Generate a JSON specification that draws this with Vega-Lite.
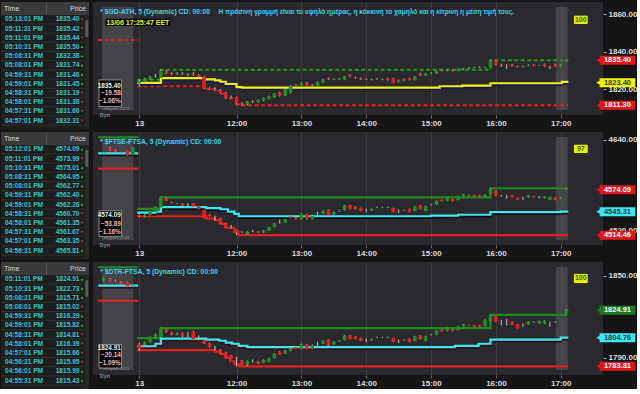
{
"$schema": "https://vega.github.io/schema/vega-lite/v6.json",
"background": "#151515",
"padding": {"left": 0, "top": 2, "right": 0, "bottom": 0},
"spacing": 3,
"config": {"view": {"stroke": null}, "font": "Liberation Sans", "text": {"font": "Liberation Sans", "fontWeight": "bold"}, "axis": {"labelFont": "Liberation Sans"}, "concat": {"spacing": 4}},
"datasets": {
"bands": [{"t": 595.5, "t2": 624.5}, {"t": 1015.5, "t2": 1026.5}],
"tb1": [
{"r":0,"time":"05:13:01 PM","price":"1835.40","d":"d"},{"r":1,"time":"05:11:31 PM","price":"1835.42","d":"d"},{"r":2,"time":"05:11:01 PM","price":"1835.44","d":"d"},{"r":3,"time":"05:10:31 PM","price":"1835.50","d":"u"},{"r":4,"time":"05:08:31 PM","price":"1832.38","d":"u"},{"r":5,"time":"05:08:01 PM","price":"1831.74","d":"u"},{"r":6,"time":"04:59:31 PM","price":"1831.46","d":"u"},{"r":7,"time":"04:59:01 PM","price":"1831.45","d":"u"},{"r":8,"time":"04:58:31 PM","price":"1831.19","d":"d"},{"r":9,"time":"04:58:01 PM","price":"1831.38","d":"d"},{"r":10,"time":"04:57:31 PM","price":"1831.60","d":"d"},{"r":11,"time":"04:57:01 PM","price":"1832.31","d":"d"}],
"tb2": [
{"r":0,"time":"05:12:01 PM","price":"4574.09","d":"u"},{"r":1,"time":"05:11:01 PM","price":"4573.99","d":"d"},{"r":2,"time":"05:10:31 PM","price":"4575.01","d":"u"},{"r":3,"time":"05:08:31 PM","price":"4564.95","d":"u"},{"r":4,"time":"05:08:01 PM","price":"4562.77","d":"u"},{"r":5,"time":"04:59:31 PM","price":"4562.40","d":"u"},{"r":6,"time":"04:59:01 PM","price":"4562.26","d":"u"},{"r":7,"time":"04:58:31 PM","price":"4560.70","d":"d"},{"r":8,"time":"04:58:01 PM","price":"4561.35","d":"d"},{"r":9,"time":"04:57:31 PM","price":"4561.67","d":"d"},{"r":10,"time":"04:57:01 PM","price":"4563.35","d":"d"},{"r":11,"time":"04:56:31 PM","price":"4565.81","d":"u"}],
"tb3": [
{"r":0,"time":"05:11:01 PM","price":"1824.91","d":"u"},{"r":1,"time":"05:10:31 PM","price":"1822.73","d":"u"},{"r":2,"time":"05:08:31 PM","price":"1815.71","d":"u"},{"r":3,"time":"05:08:01 PM","price":"1815.02","d":"d"},{"r":4,"time":"04:59:31 PM","price":"1816.29","d":"u"},{"r":5,"time":"04:59:01 PM","price":"1815.82","d":"u"},{"r":6,"time":"04:58:31 PM","price":"1814.81","d":"d"},{"r":7,"time":"04:58:01 PM","price":"1816.39","d":"d"},{"r":8,"time":"04:57:01 PM","price":"1815.66","d":"d"},{"r":9,"time":"04:56:31 PM","price":"1815.95","d":"d"},{"r":10,"time":"04:56:01 PM","price":"1815.99","d":"u"},{"r":11,"time":"04:55:31 PM","price":"1815.43","d":"u"}],
"c1": [
{"t":630,"o":1823,"h":1825,"l":1821.5,"c":1824},{"t":635,"o":1824,"h":1826,"l":1823,"c":1825.5},{"t":640,"o":1825.5,"h":1827,"l":1825,"c":1826.5},{"t":645,"o":1826.5,"h":1828,"l":1826,"c":1827},{"t":650,"o":1826,"h":1830.5,"l":1826,"c":1830},{"t":655,"o":1829.5,"h":1830.2,"l":1828,"c":1828.5},{"t":660,"o":1828.5,"h":1829,"l":1827.5,"c":1828},{"t":665,"o":1828,"h":1829,"l":1827.6,"c":1828.3},{"t":670,"o":1828.5,"h":1829,"l":1827.5,"c":1827.8},{"t":675,"o":1827.8,"h":1828.5,"l":1827,"c":1828.2},{"t":680,"o":1828.2,"h":1829,"l":1827,"c":1827.5},{"t":685,"o":1827.5,"h":1828,"l":1826,"c":1826.5},{"t":690,"o":1826.5,"h":1827,"l":1820,"c":1820.5},{"t":695,"o":1820.5,"h":1821,"l":1819.5,"c":1820},{"t":700,"o":1820,"h":1821,"l":1819,"c":1819.5},{"t":705,"o":1819.5,"h":1820,"l":1817.5,"c":1818},{"t":710,"o":1818,"h":1818.5,"l":1815,"c":1815.5},{"t":715,"o":1815.5,"h":1816.5,"l":1815,"c":1815.8},{"t":720,"o":1815.8,"h":1816,"l":1811.8,"c":1812.3},{"t":725,"o":1812.3,"h":1813,"l":1811.3,"c":1811.8},{"t":730,"o":1811.8,"h":1813.6,"l":1811.3,"c":1813.3},{"t":735,"o":1813.3,"h":1814,"l":1812.5,"c":1813},{"t":740,"o":1813,"h":1814.5,"l":1812.8,"c":1814.3},{"t":745,"o":1814,"h":1815.5,"l":1813.5,"c":1815.2},{"t":750,"o":1815,"h":1816.5,"l":1814.5,"c":1816.3},{"t":755,"o":1815.6,"h":1817.8,"l":1815.2,"c":1817.6},{"t":760,"o":1818,"h":1818.5,"l":1816,"c":1816.5},{"t":765,"o":1816.5,"h":1820.2,"l":1816.3,"c":1819.8},{"t":770,"o":1818,"h":1822,"l":1817.8,"c":1821.5},{"t":775,"o":1821.8,"h":1822.5,"l":1821,"c":1821.3},{"t":780,"o":1821.3,"h":1823.5,"l":1821,"c":1823},{"t":785,"o":1823.3,"h":1823.8,"l":1821.8,"c":1822.2},{"t":790,"o":1822.3,"h":1822.8,"l":1821.5,"c":1822},{"t":795,"o":1822,"h":1824,"l":1821.8,"c":1823.5},{"t":800,"o":1823.5,"h":1825.5,"l":1823.2,"c":1825},{"t":805,"o":1825.8,"h":1826.2,"l":1824.8,"c":1825.2},{"t":810,"o":1825,"h":1825.8,"l":1824.8,"c":1825.5},{"t":815,"o":1825.3,"h":1826,"l":1825,"c":1825.6},{"t":820,"o":1825,"h":1827,"l":1824.8,"c":1826.8},{"t":825,"o":1827.5,"h":1828,"l":1826.3,"c":1826.6},{"t":830,"o":1826.2,"h":1826.6,"l":1825.5,"c":1825.9},{"t":835,"o":1825.9,"h":1826.2,"l":1824.8,"c":1825.3},{"t":840,"o":1825.4,"h":1825.8,"l":1824.8,"c":1825},{"t":845,"o":1824.9,"h":1825.5,"l":1824.6,"c":1825.2},{"t":850,"o":1825.6,"h":1826,"l":1825,"c":1825.3},{"t":855,"o":1825,"h":1825.6,"l":1824.7,"c":1825.3},{"t":860,"o":1825.7,"h":1826.1,"l":1824.5,"c":1824.9},{"t":865,"o":1825.5,"h":1826,"l":1823.2,"c":1823.6},{"t":870,"o":1823.8,"h":1825,"l":1823.5,"c":1824.6},{"t":875,"o":1825.3,"h":1825.8,"l":1824.2,"c":1824.5},{"t":880,"o":1825.6,"h":1826,"l":1824.6,"c":1824.9},{"t":885,"o":1824.8,"h":1827,"l":1824.6,"c":1826.6},{"t":890,"o":1828.2,"h":1828.8,"l":1827,"c":1827.3},{"t":895,"o":1827.3,"h":1828.5,"l":1827,"c":1828.3},{"t":900,"o":1828.5,"h":1829,"l":1828,"c":1828.6},{"t":905,"o":1828.4,"h":1829.8,"l":1828.2,"c":1829.5},{"t":910,"o":1830.1,"h":1830.6,"l":1829.4,"c":1829.7},{"t":915,"o":1829.8,"h":1830.3,"l":1829.5,"c":1830.1},{"t":920,"o":1830.2,"h":1830.5,"l":1829.4,"c":1829.7},{"t":925,"o":1829.8,"h":1831,"l":1829.6,"c":1830.7},{"t":930,"o":1830.7,"h":1831.3,"l":1830.3,"c":1831.1},{"t":935,"o":1831,"h":1831.8,"l":1830.8,"c":1831.5},{"t":940,"o":1831.4,"h":1832,"l":1831.2,"c":1831.8},{"t":945,"o":1831.9,"h":1832.2,"l":1831.3,"c":1831.5},{"t":950,"o":1831.4,"h":1832,"l":1831.2,"c":1831.8},{"t":955,"o":1832,"h":1835.4,"l":1831.8,"c":1835},{"t":960,"o":1834.9,"h":1835.3,"l":1832.6,"c":1833.1},{"t":965,"o":1833,"h":1833.5,"l":1831.8,"c":1832.8},{"t":970,"o":1832.5,"h":1833.3,"l":1830.8,"c":1832.3},{"t":975,"o":1833,"h":1833.4,"l":1832,"c":1832.3},{"t":980,"o":1832.3,"h":1832.6,"l":1831.5,"c":1831.8},{"t":985,"o":1831.8,"h":1832.5,"l":1831.6,"c":1832.2},{"t":990,"o":1832.6,"h":1833.2,"l":1832.3,"c":1832.7},{"t":995,"o":1833,"h":1833.3,"l":1832.1,"c":1832.4},{"t":1000,"o":1832.8,"h":1833,"l":1832.4,"c":1832.7},{"t":1005,"o":1833.3,"h":1833.6,"l":1832,"c":1832.3},{"t":1010,"o":1832.2,"h":1832.5,"l":1830.8,"c":1832},{"t":1015,"o":1833.2,"h":1833.6,"l":1831.8,"c":1832.1},{"t":1020,"o":1832.2,"h":1833.5,"l":1832,"c":1833.3},{"t":1025,"o":1835,"h":1835.6,"l":1834.8,"c":1835.4}],
"c2": [
{"t":597,"o":4622,"h":4623.5,"l":4621.5,"c":4623},{"t":603,"o":4629,"h":4630.5,"l":4625,"c":4626},{"t":608,"o":4627,"h":4627.5,"l":4624,"c":4624.5},{"t":613,"o":4623.5,"h":4624,"l":4622.8,"c":4623.2},{"t":619,"o":4625,"h":4625.5,"l":4619,"c":4619.8},{"t":624,"o":4620,"h":4630,"l":4619.5,"c":4629.5},
{"t":630,"o":4541,"h":4543,"l":4538,"c":4539},{"t":635,"o":4539,"h":4542,"l":4538,"c":4541},{"t":640,"o":4541,"h":4546,"l":4540.5,"c":4545},{"t":645,"o":4545,"h":4552.5,"l":4544.5,"c":4552},{"t":650,"o":4551,"h":4565,"l":4550.5,"c":4564.4},{"t":655,"o":4563.5,"h":4564.5,"l":4559,"c":4559.6},{"t":660,"o":4558,"h":4558.5,"l":4556.5,"c":4557.2},{"t":665,"o":4555.5,"h":4556.5,"l":4555,"c":4556},{"t":670,"o":4555.8,"h":4556.5,"l":4552.5,"c":4553.4},{"t":675,"o":4555,"h":4556.5,"l":4551.5,"c":4555.3},{"t":680,"o":4556,"h":4556.5,"l":4551,"c":4552},{"t":685,"o":4552.5,"h":4553,"l":4548.5,"c":4549},{"t":690,"o":4547.7,"h":4548.2,"l":4536.5,"c":4537},{"t":695,"o":4541.7,"h":4542,"l":4538.8,"c":4539.3},{"t":700,"o":4539,"h":4540,"l":4533.5,"c":4538.5},{"t":705,"o":4537,"h":4537.5,"l":4529.5,"c":4530},{"t":710,"o":4530,"h":4530.5,"l":4524.5,"c":4525},{"t":715,"o":4527,"h":4528,"l":4523,"c":4527.2},{"t":720,"o":4521.3,"h":4522,"l":4514.46,"c":4517.7},{"t":725,"o":4519,"h":4519.5,"l":4517.5,"c":4518.8},{"t":730,"o":4515,"h":4519.5,"l":4514.6,"c":4519},{"t":735,"o":4520.5,"h":4521.5,"l":4518.5,"c":4520.8},{"t":740,"o":4519.5,"h":4520,"l":4517.5,"c":4518.5},{"t":745,"o":4518,"h":4521,"l":4517.5,"c":4520.5},{"t":750,"o":4520,"h":4525.5,"l":4519.8,"c":4525},{"t":755,"o":4525,"h":4530.5,"l":4524.6,"c":4529.7},{"t":760,"o":4531,"h":4535,"l":4529.5,"c":4531.2},{"t":765,"o":4531,"h":4536,"l":4530.5,"c":4535.7},{"t":770,"o":4539,"h":4540,"l":4536.5,"c":4537},
{"t":775,"o":4538.08,"h":4539.28,"l":4535.1,"c":4535.7},{"t":780,"o":4535.7,"h":4542.87,"l":4535.1,"c":4541.68},{"t":785,"o":4541.68,"h":4542.28,"l":4535.1,"c":4535.7},{"t":790,"o":4535.7,"h":4541.68,"l":4535.1,"c":4539.88},{"t":795,"o":4542.28,"h":4545.27,"l":4539.28,"c":4542.5},{"t":800,"o":4542.87,"h":4547.06,"l":4542.28,"c":4546.47},{"t":805,"o":4547.66,"h":4548.26,"l":4539.88,"c":4540.48},{"t":810,"o":4541.68,"h":4545.87,"l":4541.08,"c":4545.27},{"t":815,"o":4545.87,"h":4547.06,"l":4545.27,"c":4546.47},{"t":820,"o":4547.66,"h":4554.25,"l":4547.06,"c":4553.65},{"t":825,"o":4553.65,"h":4554.25,"l":4548.26,"c":4548.86},{"t":830,"o":4551.85,"h":4552.45,"l":4548.26,"c":4548.86},{"t":835,"o":4550.06,"h":4550.66,"l":4545.87,"c":4546.47},{"t":840,"o":4547.66,"h":4549.46,"l":4544.67,"c":4547.9},{"t":845,"o":4547.06,"h":4549.46,"l":4546.47,"c":4548.86},{"t":850,"o":4550.66,"h":4551.85,"l":4550.06,"c":4551},{"t":855,"o":4551.26,"h":4551.85,"l":4550.3,"c":4550.9},{"t":860,"o":4550.3,"h":4551.85,"l":4550.06,"c":4551.26},{"t":865,"o":4550.06,"h":4550.66,"l":4544.67,"c":4545.27},{"t":870,"o":4546.47,"h":4548.26,"l":4543.47,"c":4546.1},{"t":875,"o":4547.66,"h":4548.26,"l":4546.7,"c":4547.3},{"t":880,"o":4548.86,"h":4549.46,"l":4544.67,"c":4545.27},{"t":885,"o":4546.47,"h":4553.05,"l":4545.87,"c":4552.45},{"t":890,"o":4553.65,"h":4554.25,"l":4548.26,"c":4548.86},{"t":895,"o":4546.47,"h":4553.05,"l":4545.87,"c":4552.45},{"t":900,"o":4554.25,"h":4555.45,"l":4553.65,"c":4554.6},{"t":905,"o":4554.85,"h":4560.24,"l":4554.25,"c":4559.64},{"t":910,"o":4560.84,"h":4561.44,"l":4558.7,"c":4559.16},{"t":915,"o":4559.64,"h":4563.83,"l":4559.04,"c":4563.23},{"t":920,"o":4561.44,"h":4562.04,"l":4558.9,"c":4559.3},{"t":925,"o":4560.84,"h":4566.23,"l":4560.24,"c":4565.63},{"t":930,"o":4565.63,"h":4568.6,"l":4565.03,"c":4568},{"t":935,"o":4566.8,"h":4567.42,"l":4565.87,"c":4566.47},{"t":940,"o":4567.06,"h":4567.66,"l":4564.8,"c":4565.27},{"t":945,"o":4566.8,"h":4567.42,"l":4564.8,"c":4565.27},
{"t":950,"o":4565.6,"h":4568,"l":4564.5,"c":4567.5},{"t":955,"o":4569.2,"h":4576,"l":4568.5,"c":4575.2},{"t":960,"o":4572.8,"h":4574,"l":4566,"c":4566.8},{"t":965,"o":4566.8,"h":4567.5,"l":4565,"c":4566.5},{"t":970,"o":4566,"h":4567.5,"l":4562.5,"c":4566.3},{"t":975,"o":4566.8,"h":4567.3,"l":4564,"c":4564.4},{"t":980,"o":4563.2,"h":4563.8,"l":4560.5,"c":4561},{"t":985,"o":4563,"h":4565,"l":4560.8,"c":4563.2},{"t":990,"o":4564.4,"h":4567.3,"l":4564,"c":4566.8},{"t":995,"o":4565.8,"h":4566.3,"l":4564,"c":4564.6},{"t":1000,"o":4564.6,"h":4565.6,"l":4562.5,"c":4564.8},{"t":1005,"o":4563.2,"h":4565.8,"l":4562.8,"c":4565.4},{"t":1010,"o":4561,"h":4565,"l":4560.5,"c":4564.4},{"t":1015,"o":4564,"h":4564.6,"l":4560.3,"c":4561},{"t":1020,"o":4562.2,"h":4564.2,"l":4561.8,"c":4563.8},{"t":1025,"o":4574.6,"h":4575.2,"l":4573.8,"c":4574.09}],
"c3": [
{"t":597,"o":1846.5,"h":1848.8,"l":1846,"c":1848.4},{"t":603,"o":1847.8,"h":1848.5,"l":1845.8,"c":1846.3},{"t":608,"o":1846.6,"h":1847.2,"l":1845.6,"c":1846},{"t":613,"o":1845.8,"h":1846.3,"l":1843.8,"c":1844.3},{"t":619,"o":1845.2,"h":1845.6,"l":1842,"c":1842.5},{"t":624,"o":1842.8,"h":1843.5,"l":1842.3,"c":1843.2},
{"t":630,"o":1799.8,"h":1801.13,"l":1795.13,"c":1797.13},{"t":635,"o":1799.47,"h":1801.8,"l":1799.13,"c":1801.13},{"t":640,"o":1801.8,"h":1805.8,"l":1801.13,"c":1805.13},{"t":645,"o":1805.13,"h":1807.8,"l":1804.47,"c":1807.13},{"t":650,"o":1805.13,"h":1812.13,"l":1804.47,"c":1811.8},{"t":655,"o":1811.13,"h":1811.47,"l":1808.47,"c":1809.13},{"t":660,"o":1808.47,"h":1809.13,"l":1806.47,"c":1807.13},{"t":665,"o":1806.8,"h":1808.47,"l":1806.47,"c":1807.8},{"t":670,"o":1807.8,"h":1808.47,"l":1805.13,"c":1805.8},{"t":675,"o":1807.13,"h":1808.8,"l":1804.8,"c":1807.27},{"t":680,"o":1809.13,"h":1809.8,"l":1803.47,"c":1803.8},{"t":685,"o":1805.13,"h":1806.47,"l":1803.13,"c":1804.93},{"t":690,"o":1803.13,"h":1803.8,"l":1800.13,"c":1800.47},{"t":695,"o":1800.47,"h":1801.13,"l":1797.47,"c":1797.8},{"t":700,"o":1797.47,"h":1798.8,"l":1795.47,"c":1797.67},{"t":705,"o":1795.8,"h":1796.47,"l":1792.8,"c":1793.13},{"t":710,"o":1793.8,"h":1794.47,"l":1790.13,"c":1790.47},{"t":715,"o":1791.8,"h":1792.13,"l":1789.47,"c":1789.8},{"t":720,"o":1789.8,"h":1790.8,"l":1783.81,"c":1789.6},{"t":725,"o":1787.8,"h":1788.47,"l":1784.8,"c":1785.13},{"t":730,"o":1785.13,"h":1788.13,"l":1784.2,"c":1787.8},{"t":735,"o":1787.47,"h":1788.8,"l":1786.47,"c":1787.67},{"t":740,"o":1787.13,"h":1787.8,"l":1785.47,"c":1785.8},{"t":745,"o":1786.47,"h":1788.8,"l":1786.13,"c":1788.47},{"t":750,"o":1787.13,"h":1790.13,"l":1786.8,"c":1789.8},{"t":755,"o":1789.8,"h":1793.47,"l":1789.47,"c":1793.13},{"t":760,"o":1794.47,"h":1794.8,"l":1792.13,"c":1792.47},{"t":765,"o":1793.13,"h":1795.8,"l":1792.8,"c":1795.13},{"t":770,"o":1795.13,"h":1797.47,"l":1794.8,"c":1797.13},{"t":775,"o":1797.8,"h":1798.47,"l":1796.13,"c":1796.47},{"t":780,"o":1796.47,"h":1800.47,"l":1796.13,"c":1799.8},{"t":785,"o":1799.8,"h":1800.13,"l":1796.13,"c":1796.47},{"t":790,"o":1796.47,"h":1799.8,"l":1796.13,"c":1798.8},{"t":795,"o":1800.13,"h":1801.8,"l":1798.47,"c":1800.27},{"t":800,"o":1800.47,"h":1802.8,"l":1800.13,"c":1802.47},{"t":805,"o":1803.13,"h":1803.47,"l":1798.8,"c":1799.13},{"t":810,"o":1799.8,"h":1802.13,"l":1799.47,"c":1801.8},{"t":815,"o":1802.13,"h":1802.8,"l":1801.8,"c":1802.47},{"t":820,"o":1803.13,"h":1806.8,"l":1802.8,"c":1806.47},{"t":825,"o":1806.47,"h":1806.8,"l":1803.47,"c":1803.8},{"t":830,"o":1805.47,"h":1805.8,"l":1803.47,"c":1803.8},{"t":835,"o":1804.47,"h":1804.8,"l":1802.13,"c":1802.47},{"t":840,"o":1803.13,"h":1804.13,"l":1801.47,"c":1803.27},{"t":845,"o":1802.8,"h":1804.13,"l":1802.47,"c":1803.8},{"t":850,"o":1804.8,"h":1805.47,"l":1804.47,"c":1805},{"t":855,"o":1805.13,"h":1805.47,"l":1804.6,"c":1804.93},{"t":860,"o":1804.6,"h":1805.47,"l":1804.47,"c":1805.13},{"t":865,"o":1804.47,"h":1804.8,"l":1801.47,"c":1801.8},{"t":870,"o":1802.47,"h":1803.47,"l":1800.8,"c":1802.27},{"t":875,"o":1803.13,"h":1803.47,"l":1802.6,"c":1802.93},{"t":880,"o":1803.8,"h":1804.13,"l":1801.47,"c":1801.8},{"t":885,"o":1802.47,"h":1806.13,"l":1802.13,"c":1805.8},{"t":890,"o":1806.47,"h":1806.8,"l":1803.47,"c":1803.8},{"t":895,"o":1802.47,"h":1806.13,"l":1802.13,"c":1805.8},{"t":900,"o":1806.8,"h":1807.47,"l":1806.47,"c":1807},{"t":905,"o":1807.13,"h":1810.13,"l":1806.8,"c":1809.8},{"t":910,"o":1810.47,"h":1810.8,"l":1809.27,"c":1809.53},{"t":915,"o":1809.8,"h":1812.13,"l":1809.47,"c":1811.8},{"t":920,"o":1810.8,"h":1811.13,"l":1809.4,"c":1809.6},{"t":925,"o":1810.47,"h":1813.47,"l":1810.13,"c":1813.13},{"t":930,"o":1813.13,"h":1814.8,"l":1812.8,"c":1814.47},{"t":935,"o":1813.8,"h":1814.13,"l":1813.27,"c":1813.6},{"t":940,"o":1813.93,"h":1814.27,"l":1812.67,"c":1812.93},{"t":945,"o":1813.8,"h":1814.13,"l":1812.67,"c":1812.93},{"t":950,"o":1813.13,"h":1818.13,"l":1812.8,"c":1817.8},{"t":955,"o":1817.13,"h":1821.47,"l":1816.8,"c":1821.13},{"t":960,"o":1820.47,"h":1820.8,"l":1816.13,"c":1816.47},{"t":965,"o":1817.13,"h":1817.8,"l":1813.8,"c":1816.93},{"t":970,"o":1817.47,"h":1818.47,"l":1813.8,"c":1817.27},{"t":975,"o":1816.47,"h":1816.8,"l":1814.13,"c":1814.47},{"t":980,"o":1814.47,"h":1814.8,"l":1811.47,"c":1811.8},{"t":985,"o":1814.47,"h":1815.13,"l":1812.8,"c":1814.13},{"t":990,"o":1814.47,"h":1816.8,"l":1814.13,"c":1816.47},{"t":995,"o":1816.13,"h":1816.8,"l":1815.8,"c":1816.33},{"t":1000,"o":1815.13,"h":1817.27,"l":1814.8,"c":1816.8},{"t":1005,"o":1815.13,"h":1817.47,"l":1814.8,"c":1817.13},{"t":1010,"o":1816.13,"h":1816.47,"l":1812.8,"c":1816},{"t":1015,"o":1816.13,"h":1816.8,"l":1815.8,"c":1816.33},{"t":1025,"o":1823.47,"h":1825.47,"l":1823.13,"c":1824.91}],
"l1": [
{"s":"lo","d":"p","t":592,"v":1846.3},{"s":"lo","d":"p","t":629,"v":1846.3},
{"s":"hi","d":"c","t":628,"v":1825},{"s":"hi","d":"c","t":650,"v":1830.3},{"s":"hi","d":"c","t":955,"v":1835.4},{"s":"hi","d":"c","t":1027,"v":1835.4},
{"s":"lo","d":"c","t":628,"v":1821.5},{"s":"lo","d":"c","t":690,"v":1820},{"s":"lo","d":"c","t":700,"v":1819},{"s":"lo","d":"c","t":705,"v":1817.5},{"s":"lo","d":"c","t":710,"v":1815},{"s":"lo","d":"c","t":720,"v":1811.8},{"s":"lo","d":"c","t":725,"v":1811.3},{"s":"lo","d":"c","t":1027,"v":1811.3},
{"s":"avg","d":"c","t":628,"v":1823.3},{"s":"avg","d":"c","t":650,"v":1825.9},{"s":"avg","d":"c","t":690,"v":1825.2},{"s":"avg","d":"c","t":700,"v":1824.7},{"s":"avg","d":"c","t":705,"v":1823.9},{"s":"avg","d":"c","t":710,"v":1822.7},{"s":"avg","d":"c","t":720,"v":1821},{"s":"avg","d":"c","t":725,"v":1820.8},{"s":"avg","d":"c","t":908,"v":1821.5},{"s":"avg","d":"c","t":929,"v":1821.8},{"s":"avg","d":"c","t":955,"v":1823.1},{"s":"avg","d":"c","t":1021,"v":1823.8},{"s":"avg","d":"c","t":1027,"v":1823.8}],
"l2": [
{"s":"hi","d":"p","t":592,"v":4643.2},{"s":"hi","d":"p","t":629,"v":4643.2},{"s":"avg","d":"p","t":592,"v":4621.9},{"s":"avg","d":"p","t":629,"v":4621.9},{"s":"lo","d":"p","t":592,"v":4601.9},{"s":"lo","d":"p","t":629,"v":4601.9},
{"s":"hi","d":"c","t":628,"v":4549},{"s":"hi","d":"c","t":650,"v":4564.1},{"s":"hi","d":"c","t":955,"v":4576.1},{"s":"hi","d":"c","t":1027,"v":4576.1},
{"s":"lo","d":"c","t":628,"v":4539.3},{"s":"lo","d":"c","t":692,"v":4536.2},{"s":"lo","d":"c","t":700,"v":4534.3},{"s":"lo","d":"c","t":705,"v":4529.6},{"s":"lo","d":"c","t":710,"v":4524.2},{"s":"lo","d":"c","t":718,"v":4518.5},{"s":"lo","d":"c","t":722,"v":4514.46},{"s":"lo","d":"c","t":1027,"v":4514.46},
{"s":"avg","d":"c","t":628,"v":4544.1},{"s":"avg","d":"c","t":645,"v":4545.3},{"s":"avg","d":"c","t":650,"v":4551.3},{"s":"avg","d":"c","t":692,"v":4550.1},{"s":"avg","d":"c","t":705,"v":4548.5},{"s":"avg","d":"c","t":712,"v":4545.3},{"s":"avg","d":"c","t":718,"v":4542.5},{"s":"avg","d":"c","t":722,"v":4539.3},{"s":"avg","d":"c","t":900,"v":4540.2},{"s":"avg","d":"c","t":925,"v":4541.3},{"s":"avg","d":"c","t":955,"v":4544.8},{"s":"avg","d":"c","t":1020,"v":4545.31},{"s":"avg","d":"c","t":1027,"v":4545.31}],
"l3": [
{"s":"hi","d":"p","t":592,"v":1856.3},{"s":"hi","d":"p","t":629,"v":1856.3},{"s":"avg","d":"p","t":592,"v":1842.9},{"s":"avg","d":"p","t":629,"v":1842.9},{"s":"lo","d":"p","t":592,"v":1831.8},{"s":"lo","d":"p","t":629,"v":1831.8},
{"s":"hi","d":"c","t":628,"v":1804.5},{"s":"hi","d":"c","t":650,"v":1811.8},{"s":"hi","d":"c","t":955,"v":1821.5},{"s":"hi","d":"c","t":1025,"v":1824.91},{"s":"hi","d":"c","t":1027,"v":1824.91},
{"s":"lo","d":"c","t":628,"v":1795.6},{"s":"lo","d":"c","t":700,"v":1794.5},{"s":"lo","d":"c","t":705,"v":1792.8},{"s":"lo","d":"c","t":710,"v":1790.1},{"s":"lo","d":"c","t":714,"v":1787.5},{"s":"lo","d":"c","t":718,"v":1785.5},{"s":"lo","d":"c","t":722,"v":1783.81},{"s":"lo","d":"c","t":1027,"v":1783.81},
{"s":"avg","d":"c","t":628,"v":1798.5},{"s":"avg","d":"c","t":645,"v":1800.3},{"s":"avg","d":"c","t":650,"v":1804},{"s":"avg","d":"c","t":692,"v":1803.4},{"s":"avg","d":"c","t":704,"v":1802.5},{"s":"avg","d":"c","t":710,"v":1801.1},{"s":"avg","d":"c","t":716,"v":1800.3},{"s":"avg","d":"c","t":722,"v":1798.7},{"s":"avg","d":"c","t":730,"v":1797.8},{"s":"avg","d":"c","t":922,"v":1798.7},{"s":"avg","d":"c","t":944,"v":1800.3},{"s":"avg","d":"c","t":955,"v":1803.3},{"s":"avg","d":"c","t":1020,"v":1804.76},{"s":"avg","d":"c","t":1027,"v":1804.76}],
"tg1": [{"v":1835.40,"k":"down"},{"v":1823.40,"k":"avg"},{"v":1811.30,"k":"low"}],
"tg2": [{"v":4574.09,"k":"down"},{"v":4545.31,"k":"avg"},{"v":4514.46,"k":"low"}],
"tg3": [{"v":1824.91,"k":"up"},{"v":1804.76,"k":"avg"},{"v":1783.81,"k":"low"}]
},
"vconcat": [
{"hconcat": [
 {"width": 88, "height": 127, "view": {"fill": "#1c1d1d", "stroke": null},
  "layer": [
   {"data": {"values": [{}]}, "mark": {"type": "rect", "color": "#3a3a3a"}, "encoding": {"x": {"datum": 0, "type": "quantitative", "scale": {"domain": [0, 88], "nice": false, "zero": false}, "axis": null}, "x2": {"datum": 88}, "y": {"datum": -1.88, "type": "quantitative", "scale": {"domain": [-1.88, 11.92], "reverse": true, "nice": false, "zero": false}, "axis": null}, "y2": {"datum": -0.45}}},
   {"data": {"values": [{}]}, "mark": {"type": "rect", "color": "#262727"}, "encoding": {"x": {"datum": 83.5}, "x2": {"datum": 88}, "y": {"datum": -0.45}, "y2": {"datum": 11.92}}},
   {"data": {"values": [{}]}, "mark": {"type": "rect", "color": "#5a5a5a"}, "encoding": {"x": {"datum": 84.3}, "x2": {"datum": 87.3}, "y": {"datum": 0.1}, "y2": {"datum": 1.9}}},
   {"data": {"values": [{}]}, "mark": {"type": "rule", "color": "#555555"}, "encoding": {"x": {"datum": 45.5}, "y": {"datum": -1.8}, "y2": {"datum": -0.5}}},
   {"data": {"values": [{}]}, "mark": {"type": "text", "text": "Time", "align": "left", "baseline": "middle", "color": "#d8d8d8", "fontSize": 7, "fontWeight": "normal"}, "encoding": {"x": {"datum": 3}, "y": {"datum": -1.15}}},
   {"data": {"values": [{}]}, "mark": {"type": "text", "text": "Price", "align": "right", "baseline": "middle", "color": "#d8d8d8", "fontSize": 7, "fontWeight": "normal"}, "encoding": {"x": {"datum": 85}, "y": {"datum": -1.15}}},
   {"data": {"name": "tb1"}, "mark": {"type": "rule", "color": "#2f3131", "yOffset": 4.6}, "encoding": {"x": {"datum": 0}, "x2": {"datum": 83.5}, "y": {"field": "r", "type": "quantitative"}}},
   {"data": {"name": "tb1"}, "mark": {"type": "text", "align": "left", "baseline": "middle", "color": "#35c6d8", "fontSize": 6.6}, "encoding": {"x": {"datum": 4}, "y": {"field": "r", "type": "quantitative"}, "text": {"field": "time"}}},
   {"data": {"name": "tb1"}, "mark": {"type": "text", "align": "right", "baseline": "middle", "color": "#35c6d8", "fontSize": 6.6}, "encoding": {"x": {"datum": 78.5}, "y": {"field": "r", "type": "quantitative"}, "text": {"field": "price"}}},
   {"data": {"name": "tb1"}, "mark": {"type": "point", "filled": true, "size": 7, "opacity": 1}, "encoding": {"x": {"datum": 81}, "y": {"field": "r", "type": "quantitative"}, "shape": {"field": "d", "type": "nominal", "scale": {"domain": ["u", "d"], "range": ["triangle-up", "triangle-down"]}, "legend": null}, "color": {"condition": {"test": "datum.d=='u'", "value": "#22dd22"}, "value": "#ee2222"}}}
  ]},
 {"width": 510, "height": 113, "view": {"fill": "#2a2a2e", "stroke": null},
  "layer": [
   {"data": {"name": "bands"}, "mark": {"type": "rect", "color": "#55555a", "opacity": 0.6}, "encoding": {"x": {"field": "t", "type": "quantitative", "scale": {"domain": [591.8, 1054.5], "nice": false, "zero": false}, "axis": {"values": [630, 720, 780, 840, 900, 960, 1020], "labelExpr": "datum.value==630?'13':(floor(datum.value/60)+':00')", "title": null, "grid": true, "gridColor": "#3b3b40", "domain": false, "tickSize": 3, "tickColor": "#6a6a6a", "labelColor": "#dcdcdc", "labelFontSize": 8, "labelFontWeight": "bold", "labelPadding": 1, "labelFlush": false}}, "x2": {"field": "t2"}, "y": {"datum": 1808.8, "type": "quantitative", "scale": {"domain": [1808.8, 1863.9], "nice": false, "zero": false}, "axis": {"orient": "right", "values": [1820, 1830, 1840, 1850, 1860], "format": ".2f", "title": null, "grid": false, "domain": false, "tickSize": 3, "tickColor": "#aaaaaa", "labelColor": "#dcdcdc", "labelFontSize": 8, "labelFontWeight": "bold", "labelPadding": 2}}, "y2": {"datum": 1863.9}}},
   {"data": {"name": "l1"}, "transform": [{"filter": "datum.s=='hi'"}], "mark": {"type": "line", "interpolate": "step-after", "color": "#1f9a1f", "strokeWidth": 2, "strokeDash": [4, 2.5]}, "encoding": {"x": {"field": "t", "type": "quantitative"}, "y": {"field": "v", "type": "quantitative"}, "detail": {"field": "d"}}},
   {"data": {"name": "l1"}, "transform": [{"filter": "datum.s=='lo'"}], "mark": {"type": "line", "interpolate": "step-after", "color": "#e41f1f", "strokeWidth": 2, "strokeDash": [4, 2.5]}, "encoding": {"x": {"field": "t", "type": "quantitative"}, "y": {"field": "v", "type": "quantitative"}, "detail": {"field": "d"}}},
   {"data": {"name": "l1"}, "transform": [{"filter": "datum.s=='avg'"}], "mark": {"type": "line", "interpolate": "step-after", "color": "#101a5a", "strokeWidth": 2, "yOffset": 1.8}, "encoding": {"x": {"field": "t", "type": "quantitative"}, "y": {"field": "v", "type": "quantitative"}, "detail": {"field": "d"}}},
   {"data": {"name": "l1"}, "transform": [{"filter": "datum.s=='avg'"}], "mark": {"type": "line", "interpolate": "step-after", "color": "#f2f20a", "strokeWidth": 2.2}, "encoding": {"x": {"field": "t", "type": "quantitative"}, "y": {"field": "v", "type": "quantitative"}, "detail": {"field": "d"}}},
   {"data": {"name": "c1"}, "mark": {"type": "rule", "strokeWidth": 1, "color": "#c8c8c8"}, "encoding": {"x": {"field": "t", "type": "quantitative"}, "y": {"field": "l", "type": "quantitative"}, "y2": {"field": "h"}}},
   {"data": {"name": "c1"}, "mark": {"type": "bar", "width": 3.6}, "encoding": {"x": {"field": "t", "type": "quantitative"}, "y": {"field": "o", "type": "quantitative"}, "y2": {"field": "c"}, "color": {"condition": {"test": "datum.c>=datum.o", "value": "#1f8c1f"}, "value": "#ea1c1c"}}},
   {"data": {"values": [{}]}, "mark": {"type": "text", "text": "* $GD-ATH, 5 (Dynamic) CD: 00:00", "align": "left", "baseline": "middle", "color": "#3cd2ea", "fontSize": 6.8}, "encoding": {"x": {"datum": 593.8}, "y": {"datum": 1861.3}}},
   {"data": {"values": [{}]}, "mark": {"type": "text", "text": "Η πράσινη γραμμή είναι το υψηλό ημέρας, η κόκκινη το χαμηλό και η κίτρινη η μέση τιμή τους.", "align": "center", "baseline": "middle", "color": "#3cd2ea", "fontSize": 6.6}, "encoding": {"x": {"datum": 840}, "y": {"datum": 1861.3}}},
   {"data": {"values": [{}]}, "mark": {"type": "rect", "color": "#000000"}, "encoding": {"x": {"datum": 598.7}, "x2": {"datum": 658.7}, "y": {"datum": 1857.6}, "y2": {"datum": 1853.7}}},
   {"data": {"values": [{}]}, "mark": {"type": "text", "text": "13/06 17:25:47 EET", "align": "center", "baseline": "middle", "color": "#f2f20a", "fontSize": 7}, "encoding": {"x": {"datum": 628.7}, "y": {"datum": 1855.6}}},
   {"data": {"values": [{}]}, "mark": {"type": "rect", "color": "#060606", "stroke": "#8a8a8a", "strokeWidth": 1}, "encoding": {"x": {"datum": 592.7}, "x2": {"datum": 613.6}, "y": {"datum": 1824.9}, "y2": {"datum": 1810.7}}},
   {"data": {"values": [{}]}, "mark": {"type": "text", "text": "1835.40", "align": "right", "baseline": "middle", "color": "#ddf6f6", "fontSize": 6.4}, "encoding": {"x": {"datum": 612.9}, "y": {"datum": 1821.9}}},
   {"data": {"values": [{}]}, "mark": {"type": "text", "text": "−19.58", "align": "right", "baseline": "middle", "color": "#f4b8b8", "fontSize": 6.4}, "encoding": {"x": {"datum": 612.9}, "y": {"datum": 1817.7}}},
   {"data": {"values": [{}]}, "mark": {"type": "text", "text": "−1.06%", "align": "right", "baseline": "middle", "color": "#f4b8b8", "fontSize": 6.4}, "encoding": {"x": {"datum": 612.9}, "y": {"datum": 1813.6}}},
   {"data": {"values": [{}]}, "mark": {"type": "text", "text": "© eSignal, 2023", "align": "left", "baseline": "middle", "color": "#8c8c8c", "fontSize": 4.2, "fontWeight": "normal"}, "encoding": {"x": {"datum": 593}, "y": {"datum": 1809.6}}},
   {"data": {"values": [{}]}, "mark": {"type": "text", "text": "Dyn", "align": "left", "baseline": "middle", "color": "#8a8a8a", "fontSize": 5.5}, "encoding": {"x": {"datum": 593.5}, "y": {"datum": 1805.9}}},
   {"data": {"values": [{}]}, "mark": {"type": "rect", "color": "#e8e800", "stroke": "#f4f400", "strokeWidth": 1}, "encoding": {"x": {"datum": 1032.7}, "x2": {"datum": 1044.5}, "y": {"datum": 1859}, "y2": {"datum": 1855.1}}},
   {"data": {"values": [{}]}, "mark": {"type": "text", "text": "100", "align": "center", "baseline": "middle", "color": "#2a6a00", "fontSize": 7}, "encoding": {"x": {"datum": 1038.6}, "y": {"datum": 1857}}},
   {"data": {"name": "tg1"}, "mark": {"type": "bar", "height": 9}, "encoding": {"x": {"datum": 1056}, "x2": {"datum": 1089}, "y": {"field": "v", "type": "quantitative"}, "color": {"condition": [{"test": "datum.k=='avg'", "value": "#f2f20a"}, {"test": "datum.k=='up'", "value": "#1c7a1c"}], "value": "#e3151b"}}},
   {"data": {"name": "tg1"}, "mark": {"type": "point", "shape": "triangle-left", "filled": true, "size": 28, "opacity": 1}, "encoding": {"x": {"datum": 1055}, "y": {"field": "v", "type": "quantitative"}, "color": {"condition": [{"test": "datum.k=='avg'", "value": "#f2f20a"}, {"test": "datum.k=='up'", "value": "#1c7a1c"}], "value": "#e3151b"}}},
   {"data": {"name": "tg1"}, "mark": {"type": "text", "align": "center", "baseline": "middle", "fontSize": 7.5}, "encoding": {"x": {"datum": 1072.5}, "y": {"field": "v", "type": "quantitative"}, "text": {"field": "v", "type": "quantitative", "format": ".2f"}, "color": {"condition": {"test": "datum.k=='avg'", "value": "#333300"}, "value": "#ffffff"}}}
  ]}
]},
{"hconcat": [
 {"width": 88, "height": 127, "view": {"fill": "#1c1d1d", "stroke": null},
  "layer": [
   {"data": {"values": [{}]}, "mark": {"type": "rect", "color": "#3a3a3a"}, "encoding": {"x": {"datum": 0, "type": "quantitative", "scale": {"domain": [0, 88], "nice": false, "zero": false}, "axis": null}, "x2": {"datum": 88}, "y": {"datum": -1.88, "type": "quantitative", "scale": {"domain": [-1.88, 11.92], "reverse": true, "nice": false, "zero": false}, "axis": null}, "y2": {"datum": -0.45}}},
   {"data": {"values": [{}]}, "mark": {"type": "rect", "color": "#262727"}, "encoding": {"x": {"datum": 83.5}, "x2": {"datum": 88}, "y": {"datum": -0.45}, "y2": {"datum": 11.92}}},
   {"data": {"values": [{}]}, "mark": {"type": "rect", "color": "#5a5a5a"}, "encoding": {"x": {"datum": 84.3}, "x2": {"datum": 87.3}, "y": {"datum": 0.1}, "y2": {"datum": 1.9}}},
   {"data": {"values": [{}]}, "mark": {"type": "rule", "color": "#555555"}, "encoding": {"x": {"datum": 45.5}, "y": {"datum": -1.8}, "y2": {"datum": -0.5}}},
   {"data": {"values": [{}]}, "mark": {"type": "text", "text": "Time", "align": "left", "baseline": "middle", "color": "#d8d8d8", "fontSize": 7, "fontWeight": "normal"}, "encoding": {"x": {"datum": 3}, "y": {"datum": -1.15}}},
   {"data": {"values": [{}]}, "mark": {"type": "text", "text": "Price", "align": "right", "baseline": "middle", "color": "#d8d8d8", "fontSize": 7, "fontWeight": "normal"}, "encoding": {"x": {"datum": 85}, "y": {"datum": -1.15}}},
   {"data": {"name": "tb2"}, "mark": {"type": "rule", "color": "#2f3131", "yOffset": 4.6}, "encoding": {"x": {"datum": 0}, "x2": {"datum": 83.5}, "y": {"field": "r", "type": "quantitative"}}},
   {"data": {"name": "tb2"}, "mark": {"type": "text", "align": "left", "baseline": "middle", "color": "#35c6d8", "fontSize": 6.6}, "encoding": {"x": {"datum": 4}, "y": {"field": "r", "type": "quantitative"}, "text": {"field": "time"}}},
   {"data": {"name": "tb2"}, "mark": {"type": "text", "align": "right", "baseline": "middle", "color": "#35c6d8", "fontSize": 6.6}, "encoding": {"x": {"datum": 78.5}, "y": {"field": "r", "type": "quantitative"}, "text": {"field": "price"}}},
   {"data": {"name": "tb2"}, "mark": {"type": "point", "filled": true, "size": 7, "opacity": 1}, "encoding": {"x": {"datum": 81}, "y": {"field": "r", "type": "quantitative"}, "shape": {"field": "d", "type": "nominal", "scale": {"domain": ["u", "d"], "range": ["triangle-up", "triangle-down"]}, "legend": null}, "color": {"condition": {"test": "datum.d=='u'", "value": "#22dd22"}, "value": "#ee2222"}}}
  ]},
 {"width": 510, "height": 113, "view": {"fill": "#2a2a2e", "stroke": null},
  "layer": [
   {"data": {"name": "bands"}, "mark": {"type": "rect", "color": "#55555a", "opacity": 0.6}, "encoding": {"x": {"field": "t", "type": "quantitative", "scale": {"domain": [591.8, 1054.5], "nice": false, "zero": false}, "axis": {"values": [630, 720, 780, 840, 900, 960, 1020], "labelExpr": "datum.value==630?'13':(floor(datum.value/60)+':00')", "title": null, "grid": true, "gridColor": "#3b3b40", "domain": false, "tickSize": 3, "tickColor": "#6a6a6a", "labelColor": "#dcdcdc", "labelFontSize": 8, "labelFontWeight": "bold", "labelPadding": 1, "labelFlush": false}}, "x2": {"field": "t2"}, "y": {"datum": 4508.1, "type": "quantitative", "scale": {"domain": [4508.1, 4643.5], "nice": false, "zero": false}, "axis": {"orient": "right", "values": [4520, 4540, 4560, 4580, 4600, 4620, 4640], "format": ".2f", "title": null, "grid": false, "domain": false, "tickSize": 3, "tickColor": "#aaaaaa", "labelColor": "#dcdcdc", "labelFontSize": 8, "labelFontWeight": "bold", "labelPadding": 2}}, "y2": {"datum": 4643.5}}},
   {"data": {"name": "l2"}, "transform": [{"filter": "datum.s=='hi'"}], "mark": {"type": "line", "interpolate": "step-after", "color": "#1f8a1f", "strokeWidth": 2.2}, "encoding": {"x": {"field": "t", "type": "quantitative"}, "y": {"field": "v", "type": "quantitative"}, "detail": {"field": "d"}}},
   {"data": {"name": "l2"}, "transform": [{"filter": "datum.s=='lo'"}], "mark": {"type": "line", "interpolate": "step-after", "color": "#e41f1f", "strokeWidth": 2.2}, "encoding": {"x": {"field": "t", "type": "quantitative"}, "y": {"field": "v", "type": "quantitative"}, "detail": {"field": "d"}}},
   {"data": {"name": "l2"}, "transform": [{"filter": "datum.s=='avg'"}], "mark": {"type": "line", "interpolate": "step-after", "color": "#0a0a14", "strokeWidth": 2, "yOffset": 1.8}, "encoding": {"x": {"field": "t", "type": "quantitative"}, "y": {"field": "v", "type": "quantitative"}, "detail": {"field": "d"}}},
   {"data": {"name": "l2"}, "transform": [{"filter": "datum.s=='avg'"}], "mark": {"type": "line", "interpolate": "step-after", "color": "#3ee6f0", "strokeWidth": 2.2}, "encoding": {"x": {"field": "t", "type": "quantitative"}, "y": {"field": "v", "type": "quantitative"}, "detail": {"field": "d"}}},
   {"data": {"name": "c2"}, "mark": {"type": "rule", "strokeWidth": 1, "color": "#c8c8c8"}, "encoding": {"x": {"field": "t", "type": "quantitative"}, "y": {"field": "l", "type": "quantitative"}, "y2": {"field": "h"}}},
   {"data": {"name": "c2"}, "mark": {"type": "bar", "width": 3.6}, "encoding": {"x": {"field": "t", "type": "quantitative"}, "y": {"field": "o", "type": "quantitative"}, "y2": {"field": "c"}, "color": {"condition": {"test": "datum.c>=datum.o", "value": "#1f8c1f"}, "value": "#ea1c1c"}}},
   {"data": {"values": [{}]}, "mark": {"type": "text", "text": "* $FTSE-FTSA, 5 (Dynamic) CD: 00:00", "align": "left", "baseline": "middle", "color": "#3cd2ea", "fontSize": 6.8}, "encoding": {"x": {"datum": 593.8}, "y": {"datum": 4637.5}}},
   {"data": {"values": [{}]}, "mark": {"type": "rect", "color": "#060606", "stroke": "#8a8a8a", "strokeWidth": 1}, "encoding": {"x": {"datum": 592.7}, "x2": {"datum": 613.6}, "y": {"datum": 4546.5}, "y2": {"datum": 4512.9}}},
   {"data": {"values": [{}]}, "mark": {"type": "text", "text": "4574.09", "align": "right", "baseline": "middle", "color": "#ddf6f6", "fontSize": 6.4}, "encoding": {"x": {"datum": 612.9}, "y": {"datum": 4540.5}}},
   {"data": {"values": [{}]}, "mark": {"type": "text", "text": "−53.89", "align": "right", "baseline": "middle", "color": "#f4b8b8", "fontSize": 6.4}, "encoding": {"x": {"datum": 612.9}, "y": {"datum": 4529.7}}},
   {"data": {"values": [{}]}, "mark": {"type": "text", "text": "−1.16%", "align": "right", "baseline": "middle", "color": "#f4b8b8", "fontSize": 6.4}, "encoding": {"x": {"datum": 612.9}, "y": {"datum": 4518.9}}},
   {"data": {"values": [{}]}, "mark": {"type": "text", "text": "© eSignal, 2023", "align": "left", "baseline": "middle", "color": "#8c8c8c", "fontSize": 4.2, "fontWeight": "normal"}, "encoding": {"x": {"datum": 593}, "y": {"datum": 4510.3}}},
   {"data": {"values": [{}]}, "mark": {"type": "text", "text": "Dyn", "align": "left", "baseline": "middle", "color": "#8a8a8a", "fontSize": 5.5}, "encoding": {"x": {"datum": 593.5}, "y": {"datum": 4501}}},
   {"data": {"values": [{}]}, "mark": {"type": "rect", "color": "#e8e800", "stroke": "#f4f400", "strokeWidth": 1}, "encoding": {"x": {"datum": 1032.7}, "x2": {"datum": 1044.5}, "y": {"datum": 4632.7}, "y2": {"datum": 4623.1}}},
   {"data": {"values": [{}]}, "mark": {"type": "text", "text": "97", "align": "center", "baseline": "middle", "color": "#2a6a00", "fontSize": 7}, "encoding": {"x": {"datum": 1038.6}, "y": {"datum": 4627.9}}},
   {"data": {"name": "tg2"}, "mark": {"type": "bar", "height": 9}, "encoding": {"x": {"datum": 1056}, "x2": {"datum": 1089}, "y": {"field": "v", "type": "quantitative"}, "color": {"condition": [{"test": "datum.k=='avg'", "value": "#3ee6f0"}, {"test": "datum.k=='up'", "value": "#1c7a1c"}], "value": "#e3151b"}}},
   {"data": {"name": "tg2"}, "mark": {"type": "point", "shape": "triangle-left", "filled": true, "size": 28, "opacity": 1}, "encoding": {"x": {"datum": 1055}, "y": {"field": "v", "type": "quantitative"}, "color": {"condition": [{"test": "datum.k=='avg'", "value": "#3ee6f0"}, {"test": "datum.k=='up'", "value": "#1c7a1c"}], "value": "#e3151b"}}},
   {"data": {"name": "tg2"}, "mark": {"type": "text", "align": "center", "baseline": "middle", "fontSize": 7.5}, "encoding": {"x": {"datum": 1072.5}, "y": {"field": "v", "type": "quantitative"}, "text": {"field": "v", "type": "quantitative", "format": ".2f"}, "color": {"condition": {"test": "datum.k=='avg'", "value": "#1a4050"}, "value": "#ffffff"}}}
  ]}
]},
{"hconcat": [
 {"width": 88, "height": 127, "view": {"fill": "#1c1d1d", "stroke": null},
  "layer": [
   {"data": {"values": [{}]}, "mark": {"type": "rect", "color": "#3a3a3a"}, "encoding": {"x": {"datum": 0, "type": "quantitative", "scale": {"domain": [0, 88], "nice": false, "zero": false}, "axis": null}, "x2": {"datum": 88}, "y": {"datum": -1.88, "type": "quantitative", "scale": {"domain": [-1.88, 11.92], "reverse": true, "nice": false, "zero": false}, "axis": null}, "y2": {"datum": -0.45}}},
   {"data": {"values": [{}]}, "mark": {"type": "rect", "color": "#262727"}, "encoding": {"x": {"datum": 83.5}, "x2": {"datum": 88}, "y": {"datum": -0.45}, "y2": {"datum": 11.92}}},
   {"data": {"values": [{}]}, "mark": {"type": "rect", "color": "#5a5a5a"}, "encoding": {"x": {"datum": 84.3}, "x2": {"datum": 87.3}, "y": {"datum": 0.1}, "y2": {"datum": 1.9}}},
   {"data": {"values": [{}]}, "mark": {"type": "rule", "color": "#555555"}, "encoding": {"x": {"datum": 45.5}, "y": {"datum": -1.8}, "y2": {"datum": -0.5}}},
   {"data": {"values": [{}]}, "mark": {"type": "text", "text": "Time", "align": "left", "baseline": "middle", "color": "#d8d8d8", "fontSize": 7, "fontWeight": "normal"}, "encoding": {"x": {"datum": 3}, "y": {"datum": -1.15}}},
   {"data": {"values": [{}]}, "mark": {"type": "text", "text": "Price", "align": "right", "baseline": "middle", "color": "#d8d8d8", "fontSize": 7, "fontWeight": "normal"}, "encoding": {"x": {"datum": 85}, "y": {"datum": -1.15}}},
   {"data": {"name": "tb3"}, "mark": {"type": "rule", "color": "#2f3131", "yOffset": 4.6}, "encoding": {"x": {"datum": 0}, "x2": {"datum": 83.5}, "y": {"field": "r", "type": "quantitative"}}},
   {"data": {"name": "tb3"}, "mark": {"type": "text", "align": "left", "baseline": "middle", "color": "#35c6d8", "fontSize": 6.6}, "encoding": {"x": {"datum": 4}, "y": {"field": "r", "type": "quantitative"}, "text": {"field": "time"}}},
   {"data": {"name": "tb3"}, "mark": {"type": "text", "align": "right", "baseline": "middle", "color": "#35c6d8", "fontSize": 6.6}, "encoding": {"x": {"datum": 78.5}, "y": {"field": "r", "type": "quantitative"}, "text": {"field": "price"}}},
   {"data": {"name": "tb3"}, "mark": {"type": "point", "filled": true, "size": 7, "opacity": 1}, "encoding": {"x": {"datum": 81}, "y": {"field": "r", "type": "quantitative"}, "shape": {"field": "d", "type": "nominal", "scale": {"domain": ["u", "d"], "range": ["triangle-up", "triangle-down"]}, "legend": null}, "color": {"condition": {"test": "datum.d=='u'", "value": "#22dd22"}, "value": "#ee2222"}}}
  ]},
 {"width": 510, "height": 113, "view": {"fill": "#2a2a2e", "stroke": null},
  "layer": [
   {"data": {"name": "bands"}, "mark": {"type": "rect", "color": "#55555a", "opacity": 0.6}, "encoding": {"x": {"field": "t", "type": "quantitative", "scale": {"domain": [591.8, 1054.5], "nice": false, "zero": false}, "axis": {"values": [630, 720, 780, 840, 900, 960, 1020], "labelExpr": "datum.value==630?'13':(floor(datum.value/60)+':00')", "title": null, "grid": true, "gridColor": "#3b3b40", "domain": false, "tickSize": 3, "tickColor": "#6a6a6a", "labelColor": "#dcdcdc", "labelFontSize": 8, "labelFontWeight": "bold", "labelPadding": 1, "labelFlush": false}}, "x2": {"field": "t2"}, "y": {"datum": 1781.1, "type": "quantitative", "scale": {"domain": [1781.1, 1856.5], "nice": false, "zero": false}, "axis": {"orient": "right", "values": [1790, 1800, 1810, 1820, 1830, 1840, 1850], "format": ".2f", "title": null, "grid": false, "domain": false, "tickSize": 3, "tickColor": "#aaaaaa", "labelColor": "#dcdcdc", "labelFontSize": 8, "labelFontWeight": "bold", "labelPadding": 2}}, "y2": {"datum": 1856.5}}},
   {"data": {"name": "l3"}, "transform": [{"filter": "datum.s=='hi'"}], "mark": {"type": "line", "interpolate": "step-after", "color": "#1f8a1f", "strokeWidth": 2.2}, "encoding": {"x": {"field": "t", "type": "quantitative"}, "y": {"field": "v", "type": "quantitative"}, "detail": {"field": "d"}}},
   {"data": {"name": "l3"}, "transform": [{"filter": "datum.s=='lo'"}], "mark": {"type": "line", "interpolate": "step-after", "color": "#e41f1f", "strokeWidth": 2.2}, "encoding": {"x": {"field": "t", "type": "quantitative"}, "y": {"field": "v", "type": "quantitative"}, "detail": {"field": "d"}}},
   {"data": {"name": "l3"}, "transform": [{"filter": "datum.s=='avg'"}], "mark": {"type": "line", "interpolate": "step-after", "color": "#3a0c14", "strokeWidth": 2, "yOffset": 1.8}, "encoding": {"x": {"field": "t", "type": "quantitative"}, "y": {"field": "v", "type": "quantitative"}, "detail": {"field": "d"}}},
   {"data": {"name": "l3"}, "transform": [{"filter": "datum.s=='avg'"}], "mark": {"type": "line", "interpolate": "step-after", "color": "#3ee6f0", "strokeWidth": 2.2}, "encoding": {"x": {"field": "t", "type": "quantitative"}, "y": {"field": "v", "type": "quantitative"}, "detail": {"field": "d"}}},
   {"data": {"name": "c3"}, "mark": {"type": "rule", "strokeWidth": 1, "color": "#c8c8c8"}, "encoding": {"x": {"field": "t", "type": "quantitative"}, "y": {"field": "l", "type": "quantitative"}, "y2": {"field": "h"}}},
   {"data": {"name": "c3"}, "mark": {"type": "bar", "width": 3.6}, "encoding": {"x": {"field": "t", "type": "quantitative"}, "y": {"field": "o", "type": "quantitative"}, "y2": {"field": "c"}, "color": {"condition": {"test": "datum.c>=datum.o", "value": "#1f8c1f"}, "value": "#ea1c1c"}}},
   {"data": {"values": [{}]}, "mark": {"type": "text", "text": "* $DTR-FTSA, 5 (Dynamic) CD: 00:00", "align": "left", "baseline": "middle", "color": "#3cd2ea", "fontSize": 6.8}, "encoding": {"x": {"datum": 593.8}, "y": {"datum": 1852.9}}},
   {"data": {"values": [{}]}, "mark": {"type": "rect", "color": "#060606", "stroke": "#8a8a8a", "strokeWidth": 1}, "encoding": {"x": {"datum": 592.7}, "x2": {"datum": 613.6}, "y": {"datum": 1799.8}, "y2": {"datum": 1782.5}}},
   {"data": {"values": [{}]}, "mark": {"type": "text", "text": "1824.91", "align": "right", "baseline": "middle", "color": "#ddf6f6", "fontSize": 6.4}, "encoding": {"x": {"datum": 612.9}, "y": {"datum": 1797.5}}},
   {"data": {"values": [{}]}, "mark": {"type": "text", "text": "−20.14", "align": "right", "baseline": "middle", "color": "#f4b8b8", "fontSize": 6.4}, "encoding": {"x": {"datum": 612.9}, "y": {"datum": 1791.9}}},
   {"data": {"values": [{}]}, "mark": {"type": "text", "text": "−1.09%", "align": "right", "baseline": "middle", "color": "#f4b8b8", "fontSize": 6.4}, "encoding": {"x": {"datum": 612.9}, "y": {"datum": 1786.3}}},
   {"data": {"values": [{}]}, "mark": {"type": "text", "text": "© eSignal, 2023", "align": "left", "baseline": "middle", "color": "#8c8c8c", "fontSize": 4.2, "fontWeight": "normal"}, "encoding": {"x": {"datum": 593}, "y": {"datum": 1781.8}}},
   {"data": {"values": [{}]}, "mark": {"type": "text", "text": "Dyn", "align": "left", "baseline": "middle", "color": "#8a8a8a", "fontSize": 5.5}, "encoding": {"x": {"datum": 593.5}, "y": {"datum": 1776.6}}},
   {"data": {"values": [{}]}, "mark": {"type": "rect", "color": "#e8e800", "stroke": "#f4f400", "strokeWidth": 1}, "encoding": {"x": {"datum": 1032.7}, "x2": {"datum": 1044.5}, "y": {"datum": 1851.1}, "y2": {"datum": 1845.1}}},
   {"data": {"values": [{}]}, "mark": {"type": "text", "text": "100", "align": "center", "baseline": "middle", "color": "#2a6a00", "fontSize": 7}, "encoding": {"x": {"datum": 1038.6}, "y": {"datum": 1848.1}}},
   {"data": {"name": "tg3"}, "mark": {"type": "bar", "height": 9}, "encoding": {"x": {"datum": 1056}, "x2": {"datum": 1089}, "y": {"field": "v", "type": "quantitative"}, "color": {"condition": [{"test": "datum.k=='avg'", "value": "#3ee6f0"}, {"test": "datum.k=='up'", "value": "#1c7a1c"}], "value": "#e3151b"}}},
   {"data": {"name": "tg3"}, "mark": {"type": "point", "shape": "triangle-left", "filled": true, "size": 28, "opacity": 1}, "encoding": {"x": {"datum": 1055}, "y": {"field": "v", "type": "quantitative"}, "color": {"condition": [{"test": "datum.k=='avg'", "value": "#3ee6f0"}, {"test": "datum.k=='up'", "value": "#1c7a1c"}], "value": "#e3151b"}}},
   {"data": {"name": "tg3"}, "mark": {"type": "text", "align": "center", "baseline": "middle", "fontSize": 7.5}, "encoding": {"x": {"datum": 1072.5}, "y": {"field": "v", "type": "quantitative"}, "text": {"field": "v", "type": "quantitative", "format": ".2f"}, "color": {"condition": {"test": "datum.k=='avg'", "value": "#1a4050"}, "value": "#ffffff"}}}
  ]}
]}
]
}
